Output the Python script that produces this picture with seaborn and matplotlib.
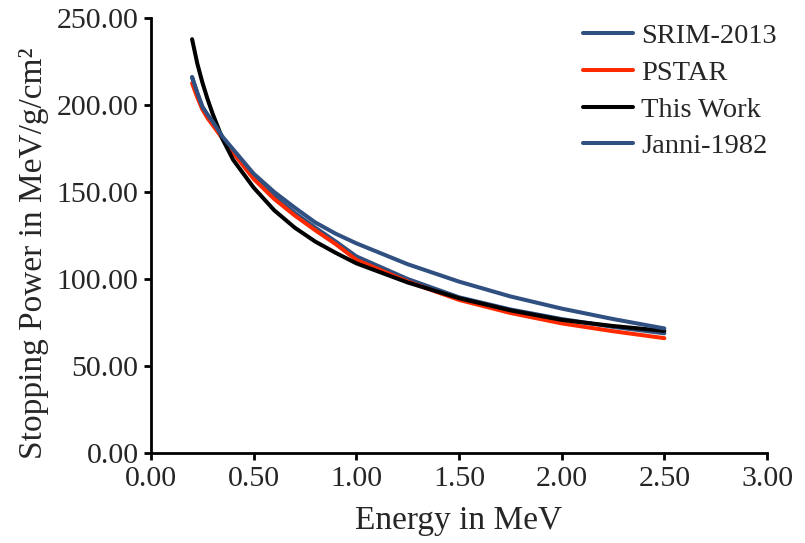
import seaborn as sns
import matplotlib.pyplot as plt
from matplotlib.ticker import FormatStrFormatter

energy = [0.2, 0.225, 0.25, 0.275, 0.3, 0.35, 0.4, 0.5, 0.6, 0.7, 0.8, 0.9, 1.0,
          1.25, 1.5, 1.75, 2.0, 2.25, 2.5]

srim = [216.0, 207.0, 199.0, 194.0, 189.5, 180.5, 173.0, 159.0, 147.5, 138.0, 129.5, 121.5, 113.0,
        100.0, 89.5, 82.5, 77.0, 72.5, 68.8]
pstar = [212.5, 204.5, 197.5, 192.5, 188.5, 180.5, 172.5, 157.5, 146.0, 136.5, 128.0, 120.0, 111.0,
         98.5, 88.0, 80.5, 74.5, 70.0, 66.0]
this_work = [237.8, 224.0, 213.0, 203.5, 195.0, 180.0, 168.5, 152.5, 139.5, 129.5, 121.5, 115.0, 109.0,
             98.0, 89.0, 82.0, 76.5, 73.0, 70.2]
janni = [216.0, 207.0, 199.0, 194.5, 190.5, 181.5, 174.5, 160.5, 150.0, 141.0, 132.5, 126.0, 120.5,
         108.5, 98.5, 90.0, 83.0, 77.0, 71.6]

names = ["SRIM-2013", "PSTAR", "This Work", "Janni-1982"]
colors = ["#2F5080", "#FF2A00", "#000000", "#2F5080"]

sns.set_style("white")
plt.rcParams['font.family'] = ['Liberation Serif', 'DejaVu Serif']

fig = plt.figure(figsize=(8.05, 5.43), dpi=100)
ax = fig.add_axes([0.1876, 0.1657, 0.7652, 0.8012])

for name, vals, c in zip(names, [srim, pstar, this_work, janni], colors):
    sns.lineplot(x=energy, y=vals, ax=ax, color=c, linewidth=2.9, label=name)

ax.set_xlim(0, 3)
ax.set_ylim(0, 250)
ax.set_xticks([0, 0.5, 1.0, 1.5, 2.0, 2.5, 3.0])
ax.set_yticks([0, 50, 100, 150, 200, 250])
ax.xaxis.set_major_formatter(FormatStrFormatter('%.2f'))
ax.yaxis.set_major_formatter(FormatStrFormatter('%.2f'))
ax.tick_params(axis='both', labelsize=21.5, direction='out', length=5, width=2,
               color='black', bottom=True, left=True, pad=4)

for s in ['top', 'right']:
    ax.spines[s].set_visible(False)
for s in ['left', 'bottom']:
    ax.spines[s].set_color('black')
    ax.spines[s].set_linewidth(2)

ax.set_xlabel('Energy in MeV', fontsize=24, labelpad=10)
ax.set_ylabel('Stopping Power in MeV/g/cm²', fontsize=24)
ax.yaxis.set_label_coords(-0.165, 0.46)

ax.legend(loc='upper right', bbox_to_anchor=(0.99, 0.994), bbox_transform=fig.transFigure,
          frameon=False, fontsize=20.5, handlelength=1.75, handletextpad=0.3,
          labelspacing=0.38, borderpad=0.2)

fig.savefig('out.png', dpi=100)
